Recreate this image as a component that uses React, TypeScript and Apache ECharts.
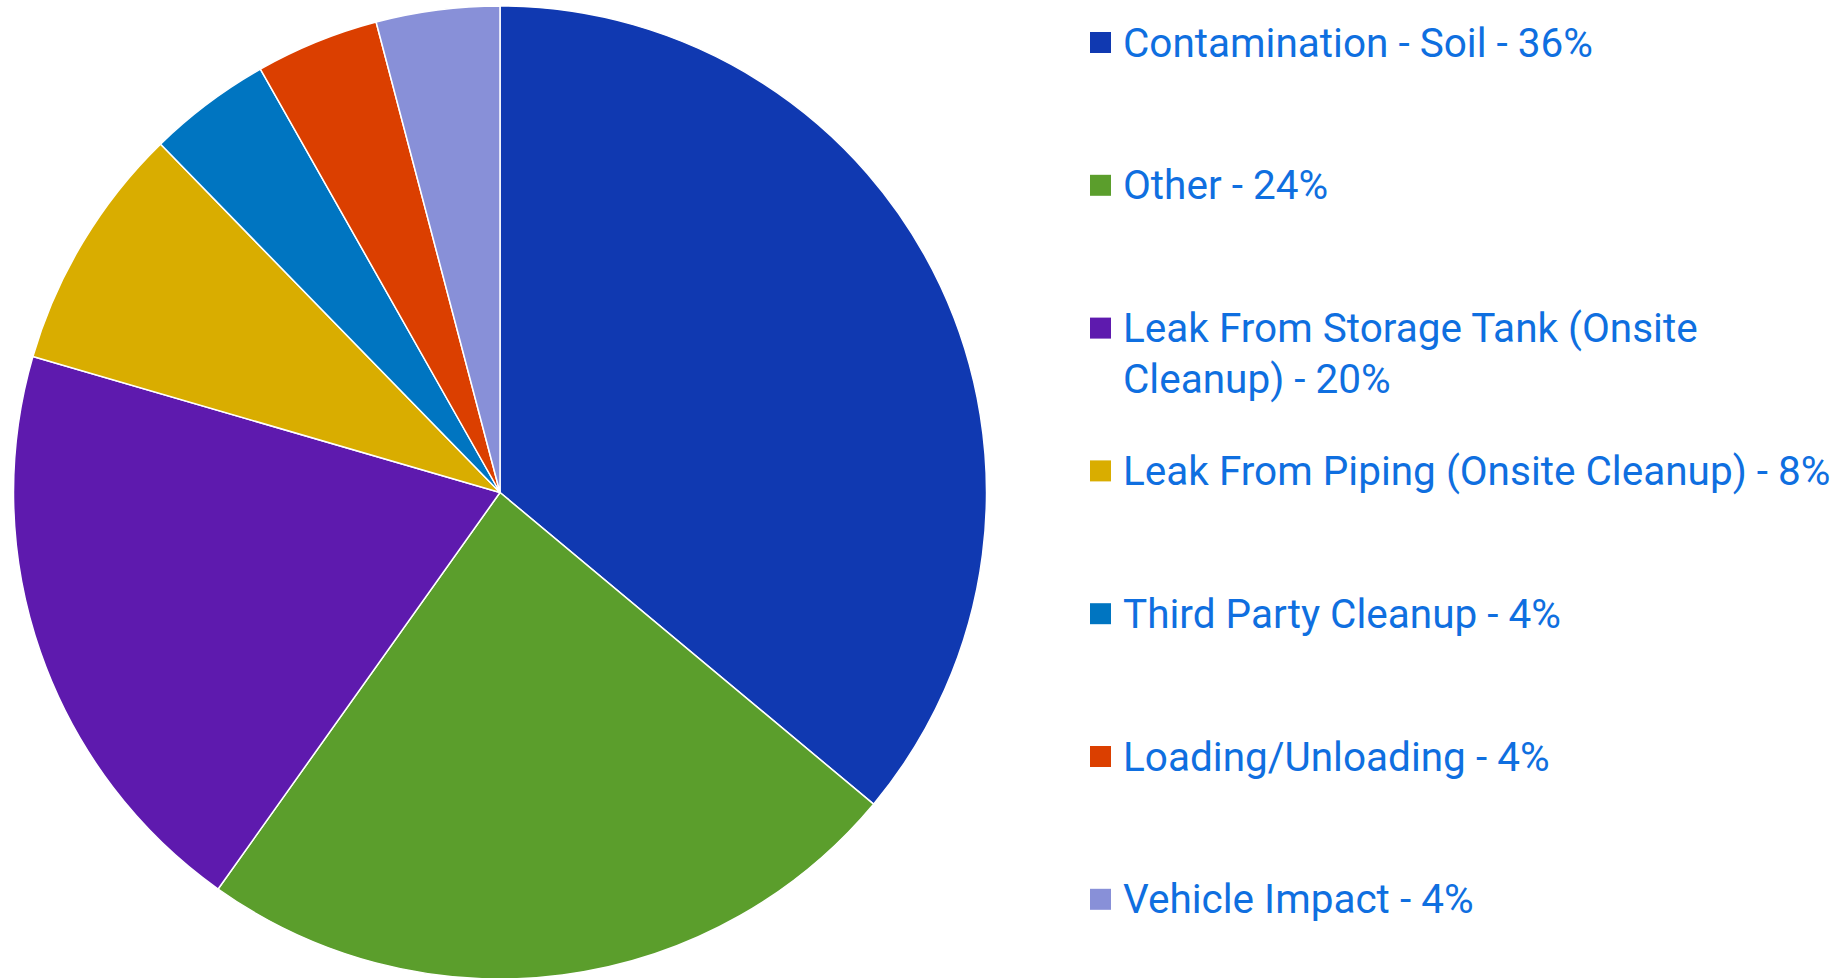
import React, { useEffect, useRef } from "react";
import * as echarts from "echarts";

const categories: string[] = [
  "Contamination - Soil",
  "Other",
  "Leak From Storage Tank (Onsite Cleanup)",
  "Leak From Piping (Onsite Cleanup)",
  "Third Party Cleanup",
  "Loading/Unloading",
  "Vehicle Impact",
];
const values: number[] = [44, 29, 24, 10, 5, 5, 5];
const colors: string[] = [
  "#1039B1",
  "#5B9E2C",
  "#5E1AAE",
  "#D9AD00",
  "#0075C1",
  "#DB3F00",
  "#8890D8",
];

const LEGEND_X = 1090;
const LEGEND_TOP = 42.5;
const LEGEND_STEP = 142.8;
const TEXT_COLOR = "#0F6FE0";
const FONT = "Roboto, 'Noto Sans', sans-serif";

export default function App() {
  const ref = useRef<HTMLDivElement>(null);
  useEffect(() => {
    if (!ref.current) return;
    const chart = echarts.init(ref.current, undefined, { renderer: "svg" });
    const total = values.reduce((a, b) => a + b, 0);
    const legendGraphics: any[] = [];
    categories.forEach((name, i) => {
      const c = LEGEND_TOP + i * LEGEND_STEP;
      const pct = Math.round((values[i] / total) * 100);
      legendGraphics.push({
        type: "rect",
        shape: { x: LEGEND_X, y: c - 10.5, width: 21, height: 21 },
        style: { fill: colors[i] },
        silent: true,
      });
      legendGraphics.push({
        type: "text",
        x: LEGEND_X + 33,
        y: c - 25.5,
        style: {
          text: `${name} - ${pct}%`,
          fill: TEXT_COLOR,
          fontFamily: FONT,
          fontSize: 40.5,
          lineHeight: 51,
          width: 712,
          overflow: "break",
          verticalAlign: "top",
          align: "left",
        },
        silent: true,
      });
    });
    chart.setOption({
      animation: false,
      backgroundColor: "#ffffff",
      legend: { show: false },
      series: [
        {
          type: "pie",
          center: [500, 492.5],
          radius: [0, 486.5],
          startAngle: 90,
          clockwise: true,
          label: { show: false },
          labelLine: { show: false },
          emphasis: { disabled: true },
          itemStyle: { borderColor: "#ffffff", borderWidth: 1.5 },
          data: categories.map((name, i) => ({
            name,
            value: values[i],
            itemStyle: { color: colors[i] },
          })),
        },
      ],
      graphic: legendGraphics,
    });
    return () => chart.dispose();
  }, []);
  return (
    <div
      ref={ref}
      style={{ position: "absolute", left: 0, top: 0, width: 1841, height: 978 }}
    />
  );
}
